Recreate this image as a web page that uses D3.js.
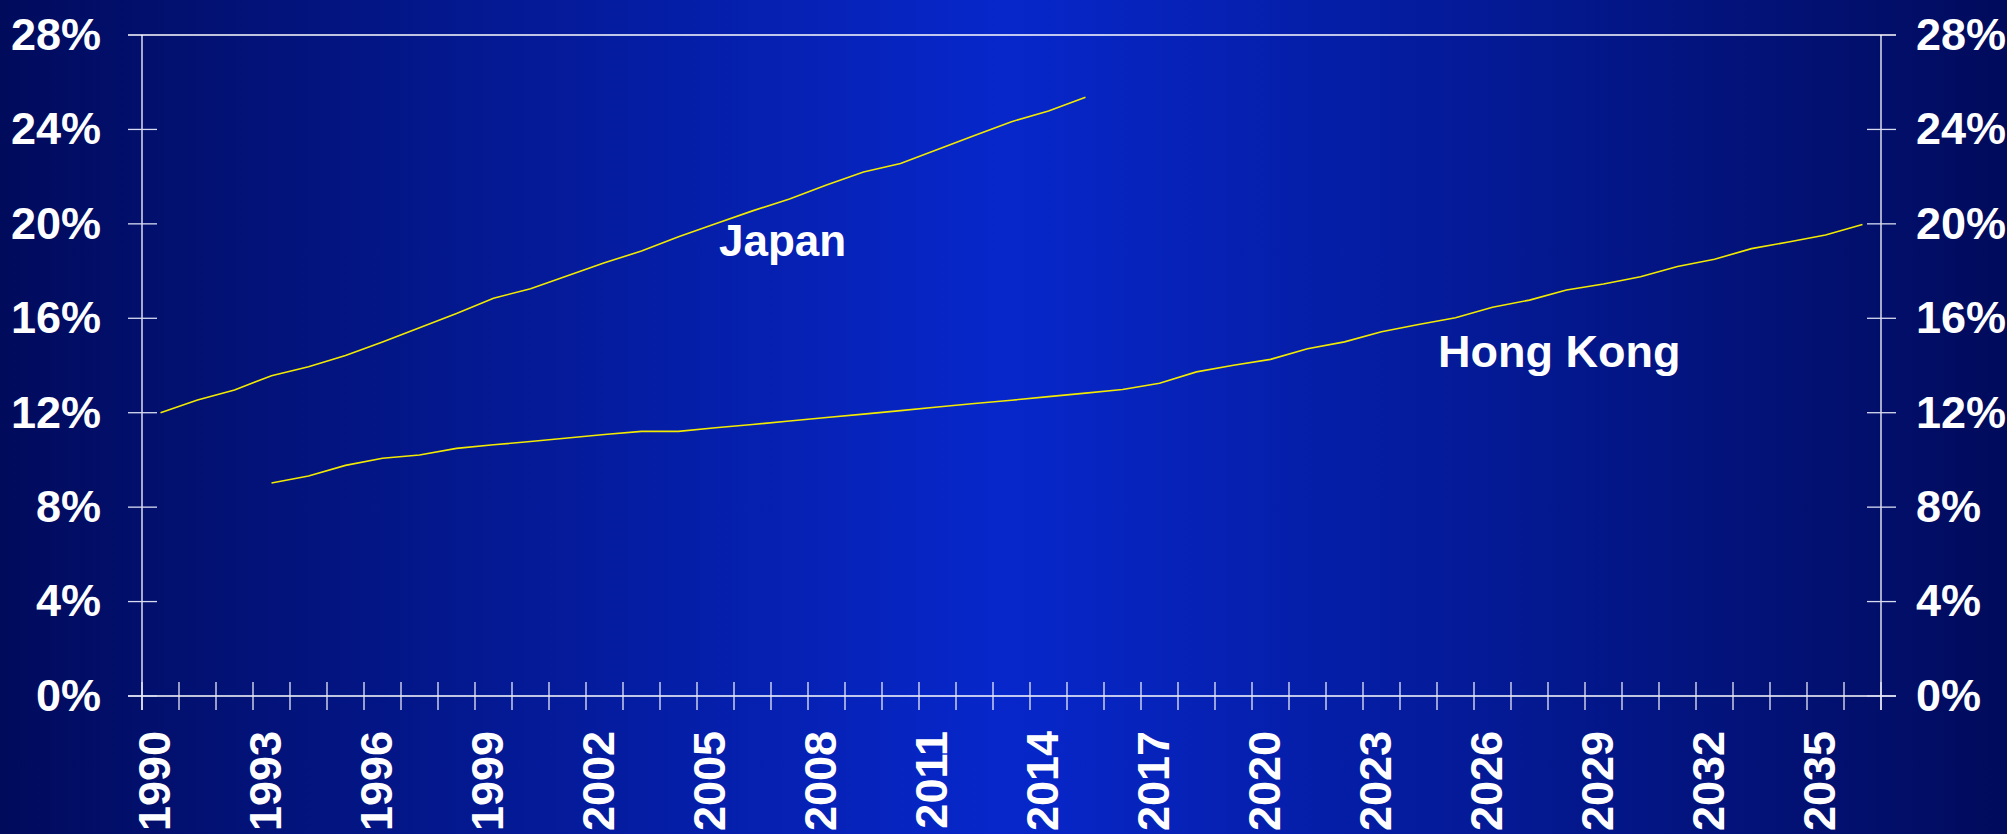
<!DOCTYPE html>
<html>
<head>
<meta charset="utf-8">
<script src="https://cdn.jsdelivr.net/npm/d3@7"></script>
<style>
  html, body { margin: 0; padding: 0; background: #020d60; }
  svg { display: block; }
  text { font-family: "Liberation Sans", Arial, sans-serif; font-weight: bold; fill: #ffffff; }
</style>
</head>
<body>
<svg id="chart" width="2007" height="834"></svg>
<script>
// ---- data ----
const years = d3.range(1990, 2037); // categories 1990..2036
const yearLabels = [1990, 1993, 1996, 1999, 2002, 2005, 2008, 2011, 2014, 2017, 2020, 2023, 2026, 2029, 2032, 2035];
const yTicks = [0, 4, 8, 12, 16, 20, 24, 28];

const japanYears = d3.range(1990, 2016);
const japanValues = [12.0, 12.54, 12.96, 13.57, 13.95, 14.42, 15.0, 15.6, 16.2, 16.85,
                     17.25, 17.8, 18.35, 18.85, 19.45, 20.0, 20.55, 21.05, 21.65, 22.2,
                     22.56, 23.15, 23.74, 24.33, 24.78, 25.36];

const hkYears = d3.range(1993, 2037);
const hkValues = [9.02, 9.32, 9.77, 10.07, 10.21, 10.49, 10.64, 10.78, 10.93, 11.08,
                  11.21, 11.21, 11.36, 11.50, 11.65, 11.80, 11.94, 12.09, 12.24, 12.39,
                  12.53, 12.68, 12.83, 12.98, 13.25, 13.73, 14.01, 14.26, 14.71, 15.0,
                  15.43, 15.74, 16.02, 16.47, 16.77, 17.2, 17.45, 17.76, 18.19, 18.5,
                  18.95, 19.23, 19.53, 19.97];

const seriesNames = ["Japan", "Hong Kong"];

// ---- layout ----
(function () {
const W = 2007, H = 834;
const pL = 142, pR = 1881, pT = 35, pB = 696;
const svg = d3.select("#chart");

const defs = svg.append("defs");
const grad = defs.append("linearGradient").attr("id", "bg").attr("x1", "0%").attr("x2", "100%").attr("y1", "0%").attr("y2", "0%");
grad.append("stop").attr("offset", "0%").attr("stop-color", "#010b5c");
grad.append("stop").attr("offset", "50%").attr("stop-color", "#0727cb");
grad.append("stop").attr("offset", "100%").attr("stop-color", "#010b5c");
svg.append("rect").attr("width", W).attr("height", H).attr("fill", "url(#bg)");

const x = d3.scaleBand().domain(years).range([pL, pR]).padding(0);
const y = d3.scaleLinear().domain([0, 28]).range([pB, pT]);
const cx = d => x(d) + x.bandwidth() / 2;

const axisColor = "#ffffff";
const g = svg.append("g");

[28, 0].forEach(v => {
  g.append("line").attr("x1", pL - 14).attr("x2", pR + 15)
    .attr("y1", y(v)).attr("y2", y(v))
    .attr("stroke", axisColor).attr("stroke-width", 1.3);
});
[pL, pR].forEach(px => {
  g.append("line").attr("x1", px).attr("x2", px).attr("y1", y(28)).attr("y2", y(0) + 14)
    .attr("stroke", axisColor).attr("stroke-width", 1.3);
});
yTicks.filter(t => t < 28).forEach(t => {
  [pL, pR].forEach(px => {
    g.append("line").attr("x1", px - 14).attr("x2", px + 15)
      .attr("y1", y(t)).attr("y2", y(t))
      .attr("stroke", "#d8dcf0").attr("stroke-width", 1.3);
  });
});
const boundaries = years.map(d => x(d)).concat([pR]);
boundaries.forEach(bx => {
  g.append("line").attr("x1", bx).attr("x2", bx).attr("y1", y(0) - 14).attr("y2", y(0) + 14)
    .attr("stroke", "#e8eaf6").attr("stroke-width", 1.3);
});

const fmt = d => d + "%";
g.selectAll(".yl").data(yTicks).enter().append("text")
  .attr("x", 101).attr("y", d => y(d)).attr("dy", "0.33em")
  .attr("text-anchor", "end").attr("font-size", 45).text(fmt);
g.selectAll(".yr").data(yTicks).enter().append("text")
  .attr("x", 1916).attr("y", d => y(d)).attr("dy", "0.33em")
  .attr("text-anchor", "start").attr("font-size", 45).text(fmt);

g.selectAll(".xl").data(yearLabels).enter().append("text")
  .attr("transform", d => `translate(${cx(d)},731) rotate(-90)`)
  .attr("dy", "0.22em").attr("text-anchor", "end").attr("font-size", 45)
  .text(d => d);

const line = d3.line().x(d => cx(d[0])).y(d => y(d[1]));
const lineColor = "#f2ea00";
svg.append("path").datum(japanYears.map((d, i) => [d, japanValues[i]]))
  .attr("d", line).attr("fill", "none").attr("stroke", lineColor).attr("stroke-width", 1.6);
svg.append("path").datum(hkYears.map((d, i) => [d, hkValues[i]]))
  .attr("d", line).attr("fill", "none").attr("stroke", lineColor).attr("stroke-width", 1.6);

svg.append("text").attr("x", 719).attr("y", 256).attr("font-size", 44).text(seriesNames[0]);
svg.append("text").attr("x", 1438).attr("y", 367).attr("font-size", 45).text(seriesNames[1]);
})();
</script>
</body>
</html>
